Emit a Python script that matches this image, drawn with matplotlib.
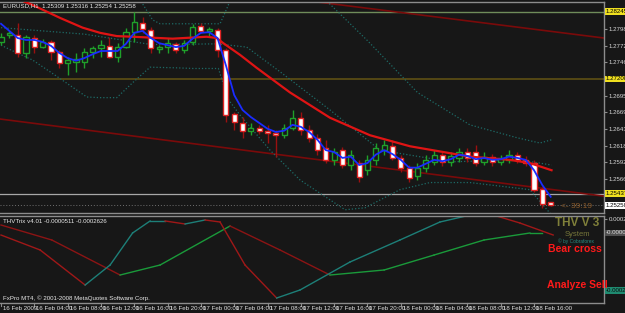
import matplotlib
matplotlib.use("Agg")
from matplotlib import pyplot as plt
from matplotlib.patches import Rectangle
import numpy as np

# ---- price data (EURUSD H1) ----
opens = [1.2778, 1.2789, 1.2789, 1.2761, 1.2784, 1.2770, 1.2778, 1.2763, 1.2746, 1.2747,
         1.2747, 1.2763, 1.2769, 1.2772, 1.2755, 1.2770, 1.2793, 1.2807, 1.2796, 1.2767,
         1.2770, 1.2775, 1.2766, 1.2778, 1.2803, 1.2795, 1.2796, 1.2766, 1.2667, 1.2653,
         1.2641, 1.2645, 1.2641, 1.2637, 1.2634, 1.2645, 1.2661, 1.2642, 1.2630, 1.2614,
         1.2596, 1.2611, 1.2588, 1.2591, 1.2580, 1.2596, 1.2611, 1.2617, 1.2599, 1.2584,
         1.2571, 1.2584, 1.2593, 1.2604, 1.2593, 1.2599, 1.2608, 1.2608, 1.2593, 1.2601,
         1.2593, 1.2596, 1.2604, 1.2596, 1.2591, 1.2551, 1.25309]
highs = [1.2791, 1.2795, 1.2807, 1.2789, 1.2789, 1.2783, 1.2781, 1.2766, 1.2755, 1.2761,
         1.2769, 1.2772, 1.2781, 1.2786, 1.2776, 1.2800, 1.2824, 1.2816, 1.2801, 1.2773,
         1.2784, 1.2778, 1.2781, 1.2806, 1.2807, 1.2801, 1.2800, 1.2769, 1.2670, 1.2662,
         1.2653, 1.2650, 1.2650, 1.2642, 1.2651, 1.2673, 1.2670, 1.2650, 1.2636, 1.2627,
         1.2614, 1.2616, 1.2611, 1.2596, 1.2604, 1.2622, 1.2627, 1.2627, 1.2604, 1.2588,
         1.2591, 1.2604, 1.2611, 1.2608, 1.2608, 1.2614, 1.2614, 1.2619, 1.2608, 1.2605,
         1.2604, 1.2611, 1.2608, 1.2602, 1.2596, 1.2554, 1.25316]
lows = [1.2773, 1.2784, 1.2755, 1.2753, 1.2761, 1.2769, 1.2750, 1.2738, 1.2727, 1.2732,
        1.2738, 1.2753, 1.2755, 1.2753, 1.2747, 1.2769, 1.2778, 1.2791, 1.2761, 1.2761,
        1.2761, 1.2761, 1.2761, 1.2773, 1.2791, 1.2786, 1.2755, 1.2655, 1.2642, 1.2630,
        1.2634, 1.2636, 1.2622, 1.2601, 1.2630, 1.2642, 1.2634, 1.2624, 1.2604, 1.2591,
        1.2588, 1.2584, 1.2580, 1.2562, 1.2573, 1.2588, 1.2604, 1.2596, 1.2577, 1.2562,
        1.2565, 1.2577, 1.2588, 1.2587, 1.2587, 1.2593, 1.2593, 1.2587, 1.2588, 1.2587,
        1.2588, 1.2591, 1.2591, 1.2587, 1.2547, 1.2522, 1.25254]
closes = [1.2786, 1.2791, 1.2761, 1.2786, 1.2770, 1.2778, 1.2763, 1.2746, 1.2750, 1.2752,
          1.2763, 1.2769, 1.2773, 1.2755, 1.2770, 1.2793, 1.2809, 1.2798, 1.2769, 1.2770,
          1.2776, 1.2766, 1.2776, 1.2801, 1.2795, 1.2798, 1.2766, 1.2665, 1.2655, 1.2641,
          1.2645, 1.2641, 1.2637, 1.2634, 1.2645, 1.2661, 1.2642, 1.2630, 1.2611, 1.2596,
          1.2608, 1.2588, 1.2604, 1.2570, 1.2596, 1.2614, 1.2619, 1.2599, 1.2584, 1.2568,
          1.2584, 1.2596, 1.2604, 1.2593, 1.2602, 1.2608, 1.2599, 1.2591, 1.2601, 1.2593,
          1.2599, 1.2604, 1.2596, 1.2591, 1.2550, 1.2528, 1.25258]

# fast MA (blue), one value per bar
blue_ma = [1.2806, 1.2795, 1.2784, 1.2781, 1.2781, 1.2778, 1.2772, 1.2761, 1.2753, 1.2749,
           1.2753, 1.2759, 1.2764, 1.2764, 1.2764, 1.2775, 1.2792, 1.2795, 1.2784, 1.2776,
           1.2773, 1.2770, 1.2772, 1.2783, 1.2792, 1.2793, 1.2784, 1.2742, 1.2696, 1.2673,
           1.2662, 1.2653, 1.2644, 1.2639, 1.2641, 1.2650, 1.2647, 1.2639, 1.2627, 1.2611,
           1.2608, 1.2599, 1.2601, 1.2588, 1.2591, 1.2604, 1.2611, 1.2605, 1.2596, 1.2584,
           1.2584, 1.2590, 1.2596, 1.2594, 1.2597, 1.2604, 1.2602, 1.2597, 1.2599, 1.2596,
           1.2597, 1.2601, 1.2599, 1.2596, 1.2580, 1.2557, 1.2539]

# slow MA (red)
red_bar = [0, 2.3, 3.8, 7.1, 9.8, 11.9, 13.9, 15.8, 20.6, 24.7, 25.9, 26.7, 28.7, 30.7,
           32.7, 34.7, 39.5, 44.3, 49.1, 56.3, 61.1, 63.5, 66.1]
red_ma = [1.2858, 1.2843, 1.2835, 1.2815, 1.2800, 1.2792, 1.2787, 1.2786, 1.2783, 1.2786,
          1.2784, 1.2776, 1.2758, 1.2738, 1.2719, 1.2700, 1.2661, 1.2634, 1.2617, 1.2601,
          1.2596, 1.2591, 1.2580]

# long MAs (dark red)
long1_bar = [-0.1, 35.9, 72.4]
long1 = [1.2900, 1.2843, 1.2784]
long2_bar = [-0.1, 72.4]
long2 = [1.2659, 1.2540]

# bollinger bands
bb_up_bar = [14.9, 16.7, 18.2, 19.1, 26.3, 27.3, 27.8, 30, 36, 44, 50, 56.3, 62, 64.7, 66.1]
bb_up = [1.2858, 1.2843, 1.2812, 1.2806, 1.2806, 1.2835, 1.2870, 1.2900, 1.2880, 1.2780,
         1.2700, 1.2650, 1.2630, 1.2622, 1.2627]
bb_mid_bar = [0, 10, 18, 26, 29.5, 33.5, 39.5, 45.5, 54, 62.3, 66.1]
bb_mid = [1.2800, 1.2790, 1.2774, 1.2775, 1.2770, 1.2732, 1.2673, 1.2611, 1.2593, 1.2596, 1.2588]
bb_lo_bar = [0, 1.1, 3.8, 6.8, 10.3, 11.9, 13.9, 15.8, 17.9, 21.1, 23.1, 26.1, 27.3, 28.7,
             32.3, 35.9, 41.3, 43.7, 47.9, 51.5, 56.3, 63.5, 66.1]
bb_lo = [1.2773, 1.2766, 1.2750, 1.2724, 1.2693, 1.2692, 1.2692, 1.2715, 1.2739, 1.2738,
         1.2737, 1.2737, 1.2689, 1.2665, 1.2611, 1.2565, 1.2519, 1.2522, 1.2550, 1.2561,
         1.2561, 1.2550, 1.2511]

# horizontal levels
level_green = 1.28245
level_olive = 1.27208
level_gray = 1.25437
price_ticks = [1.27980, 1.27720, 1.27465, 1.26950, 1.26695, 1.26435, 1.26180, 1.25920, 1.25665]

# THVTrix indicator
fast_bar = [0, 4.7, 10.1, 13.1, 15.8, 17.9, 19.7, 22.1, 24.5, 26.3, 29.3, 33.1, 35.9,
            41.9, 47.9, 52.7, 57.9, 62.3, 66.3]
fast_trix = [-0.000074, -0.000408, -0.001189, -0.000743, -0.000029, 0.000239, 0.000239,
             0.000172, 0.000261, 0.000216, -0.000743, -0.001479, -0.001300, -0.000676,
             -0.000185, 0.000216, 0.000439, 0.000194, -0.000074]
slow_bar = [0, 6.1, 14.3, 19.1, 27.5, 33.5, 39.5, 46, 52, 58, 63.5, 65]
slow_trix = [0.000149, -0.000185, -0.000966, -0.000743, 0.000127, -0.000408, -0.000966,
             -0.000854, -0.000520, -0.000185, -0.000029, -0.000029]

x_labels = ["16 Feb 2009", "16 Feb 04:00", "16 Feb 08:00", "16 Feb 12:00", "16 Feb 16:00",
            "16 Feb 20:00", "17 Feb 00:00", "17 Feb 04:00", "17 Feb 08:00", "17 Feb 12:00",
            "17 Feb 16:00", "17 Feb 20:00", "18 Feb 00:00", "18 Feb 04:00", "18 Feb 08:00",
            "18 Feb 12:00", "18 Feb 16:00"]

plt.rcParams["font.family"] = ["Liberation Sans Narrow", "Liberation Sans", "DejaVu Sans"]

BG = "#171717"
FRAME = "#8c8c8c"
W, H = 625, 313
SMALL = 4.4


def fpos(x, y):
    return x / W, 1 - y / H


fig = plt.figure(figsize=(6.25, 3.13), dpi=100, facecolor=BG)
ax = fig.add_axes([0, (H - 213) / H, 604 / W, 211 / H], facecolor=BG)
ax2 = fig.add_axes([0, (H - 303) / H, 604 / W, 87 / H], facecolor=BG)

for a in (ax, ax2):
    a.set_xlim(-0.12, 72.4)
    for s in a.spines.values():
        s.set_color(FRAME)
        s.set_linewidth(1.0)
    a.spines["left"].set_visible(False)
    a.tick_params(axis="x", length=0, labelbottom=False)

ax.set_ylim(1.25140, 1.28396)
ax2.set_ylim(-0.00159, 0.00035)

# horizontal levels
ax.axhline(level_green, color="#6f8c5a", lw=1.0)
ax.axhline(level_olive, color="#5e5014", lw=1.2)
ax.axhline(level_gray, color="#a8a8a8", lw=0.9)
ax.axhline(closes[-1], color="#707070", lw=0.7, ls=(0, (1, 2)))

# long moving averages
ax.plot(long1_bar, long1, color="#7a0a0a", lw=1.2)
ax.plot(long2_bar, long2, color="#7a0a0a", lw=1.2)

# bands
dots = (0, (1, 1.6))
ax.plot(bb_up_bar, bb_up, color="#1d6a66", lw=0.9, ls=dots)
ax.plot(bb_mid_bar, bb_mid, color="#1d6a66", lw=0.9, ls=dots)
ax.plot(bb_lo_bar, bb_lo, color="#1d6a66", lw=0.9, ls=dots)

# candles
bw = 0.62
for i in range(len(closes)):
    o, hi, lo, c = opens[i], highs[i], lows[i], closes[i]
    if c >= o:
        edge, wick, face = "#1fa02a", "#1fa02a", BG
    else:
        edge, wick, face = "#e02424", "#9a1010", "white"
    ax.vlines(i, lo, hi, color=wick, lw=1.0, zorder=3)
    body = max(abs(c - o), 0.00003)
    ax.add_patch(Rectangle((i - bw / 2, min(o, c)), bw, body, facecolor=face,
                           edgecolor=edge, lw=1.0, zorder=4))

ax.plot(red_bar, red_ma, color="#e01414", lw=1.6, zorder=5)
ax.plot(range(len(blue_ma)), blue_ma, color="#1a2cff", lw=1.3, zorder=6)

# right price scale
ax.yaxis.tick_right()
ax.set_yticks(price_ticks)
ax.set_yticklabels(["%.5f" % p for p in price_ticks])
ax.tick_params(axis="y", colors=FRAME, labelcolor="#d8d8d8", labelsize=SMALL, length=2, pad=1.2)

trans = ax.get_yaxis_transform()
for val, txt, bg in [(level_green, "1.28245", "#f0e020"), (level_olive, "1.27208", "#f0e020"),
                     (level_gray, "1.25437", "#f0e020"), (closes[-1], "1.25258", "white")]:
    ax.text(1.003, val, txt, transform=trans, fontsize=SMALL, color="black", va="center",
            ha="left", clip_on=False,
            bbox=dict(boxstyle="square,pad=0.15", fc=bg, ec="none"))

# indicator lines coloured by direction
def draw_colored(axis, xs, ys, up_color, down_color):
    for k in range(len(xs) - 1):
        col = up_color if ys[k + 1] >= ys[k] else down_color
        axis.plot(xs[k:k + 2], ys[k:k + 2], color=col, lw=1.0)

draw_colored(ax2, slow_bar, slow_trix, "#1a9a3a", "#8c1414")
draw_colored(ax2, fast_bar, fast_trix, "#1d7f78", "#a01818")

ax2.yaxis.tick_right()
ax2.set_yticks([0.000285])
ax2.set_yticklabels(["0.000285"])
ax2.tick_params(axis="y", colors=FRAME, labelcolor="#d8d8d8", labelsize=SMALL, length=2, pad=1.2)
t2 = ax2.get_yaxis_transform()
ax2.text(1.003, -0.000029, "-0.00005", transform=t2, fontsize=SMALL, color="#d8d8d8",
         va="center", clip_on=False, bbox=dict(boxstyle="square,pad=0.15", fc="#505050", ec="none"))
ax2.text(1.003, -0.00131, "-0.00026", transform=t2, fontsize=SMALL, color="#0a0a0a",
         va="center", clip_on=False, bbox=dict(boxstyle="square,pad=0.15", fc="#1f8a70", ec="none"))

# x labels along the bottom
for k, lab in enumerate(x_labels):
    xb = k * 4
    xp = (xb + 0.12) / 72.52 * 604
    fig.add_artist(plt.Line2D([xp / W, xp / W], [1 - 303 / H, 1 - 306 / H], color=FRAME, lw=0.8))
    fig.text(*fpos(xp + 2, 308.5), lab, fontsize=SMALL, color="#e0e0e0", va="center", ha="left")

# texts
fig.text(*fpos(3, 6), "EURUSD,H1  1.25309 1.25316 1.25254 1.25258", fontsize=SMALL,
         color="#e8e8e8", va="center")
fig.text(*fpos(3, 221.5), "THVTrix v4.01 -0.0000511 -0.0002626", fontsize=SMALL,
         color="#e8e8e8", va="center")
fig.text(*fpos(3, 298.5), "FxPro MT4, \u00a9 2001-2008 MetaQuotes Software Corp.", fontsize=SMALL,
         color="#e8e8e8", va="center")
fig.text(*fpos(561, 206.5), "<- 39:19", fontsize=6, color="#8a5a2a", va="center")
fig.text(*fpos(577, 223), "THV V 3", fontsize=8.5, fontweight="bold", color="#80803a",
         va="center", ha="center", family=["Liberation Sans", "DejaVu Sans"])
fig.text(*fpos(577, 234), "System", fontsize=5.5, color="#76763a", va="center", ha="center",
         family=["Liberation Sans", "DejaVu Sans"])
fig.text(*fpos(576, 241), "\u00a9 by Cobraforex", fontsize=3.5, color="#2a8a80", va="center",
         ha="center")
fig.text(*fpos(548, 248.5), "Bear cross", fontsize=7.5, fontweight="bold", color="#ff1a1a",
         va="center", ha="left", family=["Liberation Sans", "DejaVu Sans"])
fig.text(*fpos(547, 285.5), "Analyze Sell", fontsize=7.5, fontweight="bold", color="#ff1a1a",
         va="center", ha="left", family=["Liberation Sans", "DejaVu Sans"])

fig.savefig("out.png", dpi=100, facecolor=BG)
